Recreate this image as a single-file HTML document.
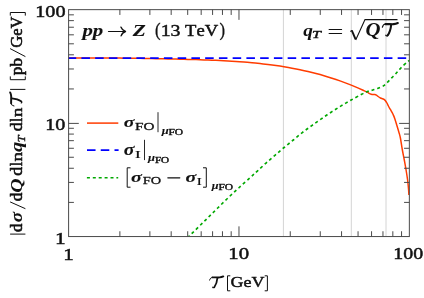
<!DOCTYPE html>
<html><head><meta charset="utf-8"><title>plot</title>
<style>html,body{margin:0;padding:0;background:#fff;}svg{display:block;will-change:transform;}text{font-family:"Liberation Serif",serif;font-size:100px;font-kerning:none;fill:#111;stroke:#111;stroke-linejoin:round;}.i{font-style:italic;}.b{font-weight:bold;}</style></head><body>
<svg width="424" height="298" viewBox="0 0 424 298">
<rect width="424" height="298" fill="#fff"/>
<defs>
<g id="calT" fill="none" stroke="#111" stroke-linecap="round" stroke-linejoin="round"><path d="M0.3,-8.3 C0.7,-9.9 1.7,-10.9 3.2,-11.1" stroke-width="1.0"/><path d="M3.2,-11.0 C5.6,-11.2 8.0,-10.8 10.4,-11.0 C11.8,-11.1 13.0,-11.5 14.0,-12.0" stroke-width="1.9"/><path d="M8.1,-10.4 C7.8,-7.2 6.7,-3.4 5.0,-1.2" stroke-width="1.8"/><path d="M5.0,-1.2 C4.5,-0.5 3.7,-0.5 3.4,-1.2" stroke-width="1.2"/></g>
<clipPath id="cp"><rect x="68.60" y="9.65" width="340.75" height="226.90"/></clipPath>
</defs>
<line x1="283.40" y1="9.65" x2="283.40" y2="236.55" stroke="#d4d4d4" stroke-width="1"/>
<line x1="351.30" y1="9.65" x2="351.30" y2="236.55" stroke="#d4d4d4" stroke-width="1"/>
<line x1="386.00" y1="9.65" x2="386.00" y2="236.55" stroke="#d4d4d4" stroke-width="1"/>
<g clip-path="url(#cp)" fill="none">
<path d="M67.60,58.00 C73.00,58.00 93.27,58.01 100.00,58.01 C106.73,58.01 105.33,58.00 108.00,58.01 C110.67,58.02 113.33,58.03 116.00,58.05 C118.67,58.07 121.33,58.10 124.00,58.13 C126.67,58.16 129.33,58.19 132.00,58.23 C134.67,58.27 137.33,58.31 140.00,58.35 C142.67,58.39 145.33,58.44 148.00,58.49 C150.67,58.54 153.33,58.59 156.00,58.64 C158.67,58.69 161.33,58.74 164.00,58.80 C166.67,58.85 169.33,58.91 172.00,58.97 C174.67,59.03 177.33,59.09 180.00,59.16 C182.67,59.23 185.33,59.30 188.00,59.38 C190.67,59.46 193.33,59.52 196.00,59.61 C198.67,59.70 201.33,59.79 204.00,59.89 C206.67,59.99 209.33,60.09 212.00,60.20 C214.67,60.31 217.33,60.44 220.00,60.57 C222.67,60.70 225.33,60.84 228.00,61.00 C230.67,61.16 233.33,61.32 236.00,61.50 C238.67,61.68 241.33,61.88 244.00,62.09 C246.67,62.30 249.33,62.53 252.00,62.78 C254.67,63.03 257.33,63.29 260.00,63.58 C262.67,63.87 265.33,64.18 268.00,64.51 C270.67,64.84 273.33,65.19 276.00,65.57 C278.67,65.95 281.33,66.36 284.00,66.80 C286.67,67.24 289.33,67.69 292.00,68.19 C294.67,68.69 297.33,69.21 300.00,69.77 C302.67,70.33 305.33,70.91 308.00,71.54 C310.67,72.17 313.33,72.83 316.00,73.53 C318.67,74.23 321.33,74.96 324.00,75.74 C326.67,76.52 329.33,77.34 332.00,78.20 C334.67,79.06 337.33,79.96 340.00,80.91 C342.67,81.86 345.33,82.85 348.00,83.89 C350.67,84.93 353.33,86.02 356.00,87.15 C358.67,88.28 362.13,89.85 364.00,90.69 C365.87,91.53 366.17,91.66 367.20,92.19 C368.23,92.72 369.37,93.52 370.20,93.90 C371.03,94.29 371.43,94.38 372.20,94.50 C372.97,94.62 374.10,94.48 374.80,94.60 C375.50,94.72 375.88,94.92 376.40,95.20 C376.92,95.48 377.22,95.83 377.90,96.30 C378.58,96.77 379.72,97.58 380.50,98.00 C381.28,98.42 381.97,98.53 382.60,98.80 C383.23,99.07 383.80,99.23 384.30,99.60 C384.80,99.97 385.17,100.43 385.60,101.00 C386.03,101.57 386.43,102.17 386.90,103.00 C387.37,103.83 387.85,104.97 388.40,106.00 C388.95,107.03 389.57,108.10 390.20,109.20 C390.83,110.30 391.63,111.53 392.20,112.60 C392.77,113.67 393.17,114.57 393.60,115.60 C394.03,116.63 394.25,117.15 394.80,118.80 C395.35,120.45 396.22,123.27 396.90,125.50 C397.58,127.73 398.32,130.12 398.90,132.20 C399.48,134.28 399.85,135.20 400.40,138.00 C400.95,140.80 401.57,145.42 402.20,149.00 C402.83,152.58 403.57,156.08 404.20,159.50 C404.83,162.92 405.43,166.08 406.00,169.50 C406.57,172.92 407.18,176.78 407.60,180.00 C408.02,183.22 408.28,186.30 408.50,188.80 C408.72,191.30 408.83,193.97 408.90,195.00" stroke="#ff3c00" stroke-width="1.5" stroke-linejoin="round"/>
<path d="M67.65,58 L410,58" stroke="#0000ff" stroke-width="1.75" stroke-dasharray="8.55 5.2"/>
<path d="M186.00,239.20 C186.48,238.73 187.95,237.33 188.90,236.40 C189.85,235.47 189.27,235.98 191.70,233.60 C194.13,231.22 199.58,225.95 203.50,222.10 C207.42,218.25 211.30,214.35 215.20,210.50 C219.10,206.65 222.98,202.75 226.90,199.00 C230.82,195.25 234.78,191.60 238.70,188.00 C242.62,184.40 247.25,180.27 250.40,177.40 C253.55,174.53 254.95,173.23 257.60,170.80 C260.25,168.37 263.37,165.42 266.30,162.80 C269.23,160.18 272.23,157.65 275.20,155.10 C278.17,152.55 281.08,150.02 284.10,147.50 C287.12,144.98 290.27,142.48 293.30,140.00 C296.33,137.52 299.22,135.00 302.30,132.60 C305.38,130.20 308.63,127.88 311.80,125.60 C314.97,123.32 318.08,121.13 321.30,118.90 C324.52,116.67 327.80,114.37 331.10,112.20 C334.40,110.03 337.75,107.93 341.10,105.90 C344.45,103.87 347.78,101.93 351.20,100.00 C354.62,98.07 358.88,95.70 361.60,94.30 C364.32,92.90 365.63,92.32 367.50,91.60 C369.37,90.88 371.03,90.57 372.80,90.00 C374.57,89.43 376.33,88.88 378.10,88.20 C379.87,87.52 381.82,86.90 383.40,85.90 C384.98,84.90 386.22,83.53 387.60,82.20 C388.98,80.87 390.33,79.32 391.70,77.90 C393.07,76.48 394.48,75.12 395.80,73.70 C397.12,72.28 398.27,70.83 399.60,69.40 C400.93,67.97 402.40,66.40 403.80,65.10 C405.20,63.80 406.97,62.45 408.00,61.60 C409.03,60.75 409.67,60.27 410.00,60.00" stroke="#00a800" stroke-width="1.65" stroke-dasharray="3 2.93" stroke-dashoffset="3.9"/>
</g>
<g stroke="#4a4a4a" stroke-width="1.00" fill="none">
<rect x="68.60" y="9.65" width="340.75" height="226.90"/>
<path d="M119.89,236.55 v-5.30 M119.89,9.65 v5.30 M68.60,202.40 h5.30 M409.35,202.40 h-5.30 M149.89,236.55 v-5.30 M149.89,9.65 v5.30 M68.60,182.42 h5.30 M409.35,182.42 h-5.30 M171.18,236.55 v-5.30 M171.18,9.65 v5.30 M68.60,168.25 h5.30 M409.35,168.25 h-5.30 M187.69,236.55 v-5.30 M187.69,9.65 v5.30 M68.60,157.25 h5.30 M409.35,157.25 h-5.30 M201.18,236.55 v-5.30 M201.18,9.65 v5.30 M68.60,148.27 h5.30 M409.35,148.27 h-5.30 M212.58,236.55 v-5.30 M212.58,9.65 v5.30 M68.60,140.67 h5.30 M409.35,140.67 h-5.30 M222.46,236.55 v-5.30 M222.46,9.65 v5.30 M68.60,134.09 h5.30 M409.35,134.09 h-5.30 M231.18,236.55 v-5.30 M231.18,9.65 v5.30 M68.60,128.29 h5.30 M409.35,128.29 h-5.30 M238.97,236.55 v-10.20 M238.97,9.65 v10.20 M68.60,123.40 h10.20 M409.35,123.40 h-10.20 M290.26,236.55 v-5.30 M290.26,9.65 v5.30 M68.60,88.95 h5.30 M409.35,88.95 h-5.30 M320.26,236.55 v-5.30 M320.26,9.65 v5.30 M68.60,68.97 h5.30 M409.35,68.97 h-5.30 M341.55,236.55 v-5.30 M341.55,9.65 v5.30 M68.60,54.80 h5.30 M409.35,54.80 h-5.30 M358.06,236.55 v-5.30 M358.06,9.65 v5.30 M68.60,43.80 h5.30 M409.35,43.80 h-5.30 M371.55,236.55 v-5.30 M371.55,9.65 v5.30 M68.60,34.82 h5.30 M409.35,34.82 h-5.30 M382.96,236.55 v-5.30 M382.96,9.65 v5.30 M68.60,27.22 h5.30 M409.35,27.22 h-5.30 M392.84,236.55 v-5.30 M392.84,9.65 v5.30 M68.60,20.64 h5.30 M409.35,20.64 h-5.30 M401.55,236.55 v-5.30 M401.55,9.65 v5.30 M68.60,14.84 h5.30 M409.35,14.84 h-5.30"/>
</g>
<text transform="matrix(0.2022,0,0,0.1630,35.23,17.19)" stroke-width="2.74">100</text>
<text transform="matrix(0.2011,0,0,0.1630,45.24,130.29)" stroke-width="2.75">10</text>
<text transform="matrix(0.2143,0,0,0.1664,55.12,243.65)" stroke-width="2.63">1</text>
<text transform="matrix(0.2114,0,0,0.1664,63.15,259.65)" stroke-width="2.65">1</text>
<text transform="matrix(0.2080,0,0,0.1615,228.28,259.49)" stroke-width="2.71">10</text>
<text transform="matrix(0.1993,0,0,0.1615,393.36,259.49)" stroke-width="2.77">100</text>
<text class="b i" transform="matrix(0.2077,0,0,0.1737,82.50,35.90)" stroke-width="0.52">pp</text>
<text class="b i" transform="matrix(0.2137,0,0,0.1738,132.75,35.95)" stroke-width="0.52">Z</text>
<text transform="matrix(0.1686,0,0,0.1956,154.99,36.44)" stroke-width="1.65">(</text>
<text transform="matrix(0.1989,0,0,0.1672,160.66,35.58)" stroke-width="2.73">13</text>
<text transform="matrix(0.1862,0,0,0.1684,185.08,35.60)" stroke-width="2.82">TeV</text>
<text transform="matrix(0.1654,0,0,0.1956,219.55,36.44)" stroke-width="1.66">)</text>
<text class="b i" transform="matrix(0.1935,0,0,0.1766,303.31,35.59)" stroke-width="0.00">q</text>
<text class="i" transform="matrix(0.1600,0,0,0.1108,312.01,38.15)" stroke-width="3.69">T</text>
<text class="b i" transform="matrix(0.2076,0,0,0.1951,365.47,35.88)" stroke-width="0.00">Q</text>
<text class="b i" transform="matrix(0.1972,0,0,0.1551,123.78,127.02)" stroke-width="0.85">σ</text>
<text transform="matrix(0.1523,0,0,0.1112,135.02,130.11)" stroke-width="2.66">FO</text>
<text class="b i" transform="matrix(0.1257,0,0,0.1075,161.65,133.89)" stroke-width="0.86">μ</text>
<text transform="matrix(0.1149,0,0,0.0769,168.48,135.00)" stroke-width="4.69">FO</text>
<text class="b i" transform="matrix(0.1972,0,0,0.1570,123.78,154.62)" stroke-width="0.85">σ</text>
<text transform="matrix(0.1868,0,0,0.1085,134.72,158.02)" stroke-width="1.02">I</text>
<text class="b i" transform="matrix(0.1257,0,0,0.1075,148.05,161.39)" stroke-width="0.86">μ</text>
<text transform="matrix(0.1116,0,0,0.0769,154.89,163.00)" stroke-width="4.77">FO</text>
<text class="b i" transform="matrix(0.2009,0,0,0.1514,130.97,181.72)" stroke-width="0.85">σ</text>
<text transform="matrix(0.1440,0,0,0.1112,142.74,184.11)" stroke-width="2.74">FO</text>
<text class="b i" transform="matrix(0.1991,0,0,0.1523,185.48,181.77)" stroke-width="0.85">σ</text>
<text transform="matrix(0.1642,0,0,0.1085,196.40,184.52)" stroke-width="1.10">I</text>
<text class="b i" transform="matrix(0.1221,0,0,0.1090,211.64,189.06)" stroke-width="0.87">μ</text>
<text transform="matrix(0.1149,0,0,0.0754,218.38,190.30)" stroke-width="4.73">FO</text>
<text transform="matrix(0.1798,0,0,0.1526,230.53,287.32)" stroke-width="3.01">GeV</text>
<g stroke="#111" fill="none" stroke-linecap="round" stroke-linejoin="round"><path d="M108.5,31.5 H125.2" stroke-width="1.2"/><path d="M120.9,27.1 C121.7,29.3 123.2,30.8 125.5,31.5 C123.2,32.2 121.8,33.7 121.1,35.9" stroke-width="1.35"/></g>
<g stroke="#111" fill="none" stroke-width="1.1" stroke-linecap="round"><path d="M329.1,29.5 H341.6 M329.1,33.45 H341.6"/></g>
<g stroke="#111" fill="none" stroke-linejoin="miter"><path d="M350.0,31.5 L352.0,30.3" stroke-width="0.9"/><path d="M351.8,30.4 L355.6,39.3" stroke-width="1.9"/><path d="M355.7,40.0 L365.0,19.6 H397.5" stroke-width="1.1"/></g>
<use href="#calT" transform="translate(382.0,36.7) scale(1.13,1.14)"/>
<path d="M87,123.1 H118.3" stroke="#ff3c00" stroke-width="1.5" fill="none"/>
<path d="M87,150.2 H118.6" stroke="#0000ff" stroke-width="1.75" stroke-dasharray="8.55 5.2" fill="none"/>
<path d="M86.9,177.7 H118.2" stroke="#00a800" stroke-width="1.65" stroke-dasharray="3 2.9" fill="none"/>
<g stroke="#111" fill="none">
<path d="M158,112.2 V132.2" stroke-width="0.9"/>
<path d="M144.5,139.8 V160.1" stroke-width="0.9"/>
<path d="M130.5,167.8 H127.2 V187.2 H130.5" stroke-width="1.0"/>
<path d="M167.8,177.8 H179.8" stroke-width="1.15" stroke-linecap="round"/>
<path d="M203.0,167.8 H206.3 V187.2 H203.0" stroke-width="1.0"/>
<path d="M230.3,275.8 H227.5 V290.8 H230.3" stroke-width="1.0"/>
<path d="M264.7,275.8 H267.4 V290.8 H264.7" stroke-width="1.0"/>
</g>
<use href="#calT" transform="translate(209.3,288.4)"/>
<g transform="translate(21.90,235) rotate(-90)">
<text transform="matrix(0.1692,0,0,0.1614,3.11,-0.16)" stroke-width="3.63">d</text>
<text class="b i" transform="matrix(0.1915,0,0,0.1636,12.70,0.16)" stroke-width="0.84">σ</text>
<text transform="matrix(0.1736,0,0,0.1614,33.69,-0.16)" stroke-width="3.58">d</text>
<text class="b i" transform="matrix(0.1985,0,0,0.1768,42.31,0.27)" stroke-width="0.00">Q</text>
<text transform="matrix(0.1802,0,0,0.1614,59.27,-0.16)" stroke-width="3.51">d</text>
<text transform="matrix(0.1417,0,0,0.1609,69.02,-0.20)" stroke-width="3.97">l</text>
<text transform="matrix(0.1913,0,0,0.1527,73.52,-0.12)" stroke-width="3.49">n</text>
<text class="b i" transform="matrix(0.2043,0,0,0.1577,83.09,-0.21)" stroke-width="0.00">q</text>
<text class="i" transform="matrix(0.1236,0,0,0.1123,92.75,3.15)" stroke-width="4.24">T</text>
<text transform="matrix(0.1802,0,0,0.1614,103.67,-0.16)" stroke-width="3.51">d</text>
<text transform="matrix(0.1417,0,0,0.1609,113.32,-0.20)" stroke-width="3.97">l</text>
<text transform="matrix(0.1870,0,0,0.1527,117.93,-0.12)" stroke-width="3.53">n</text>
<text transform="matrix(0.1714,0,0,0.1600,159.84,-0.26)" stroke-width="3.62">pb</text>
<text transform="matrix(0.1657,0,0,0.1630,187.24,-0.24)" stroke-width="3.65">GeV</text>
<g stroke="#111" fill="none" stroke-width="1.0">
<path d="M0.90,-11.8 V3.5"/>
<path d="M26.30,3.5 L33.10,-11.8"/>
<path d="M145.60,-11.8 V3.5"/>
<path d="M158.60,-11.6 H155.30 V3.4 H158.60"/>
<path d="M178.40,3.5 L186.40,-11.8"/>
<path d="M219.40,-11.6 H222.50 V3.4 H219.40"/>
</g>
<use href="#calT" transform="translate(128.60,0.6) scale(1.0,1.03)"/>
</g>
</svg></body></html>
